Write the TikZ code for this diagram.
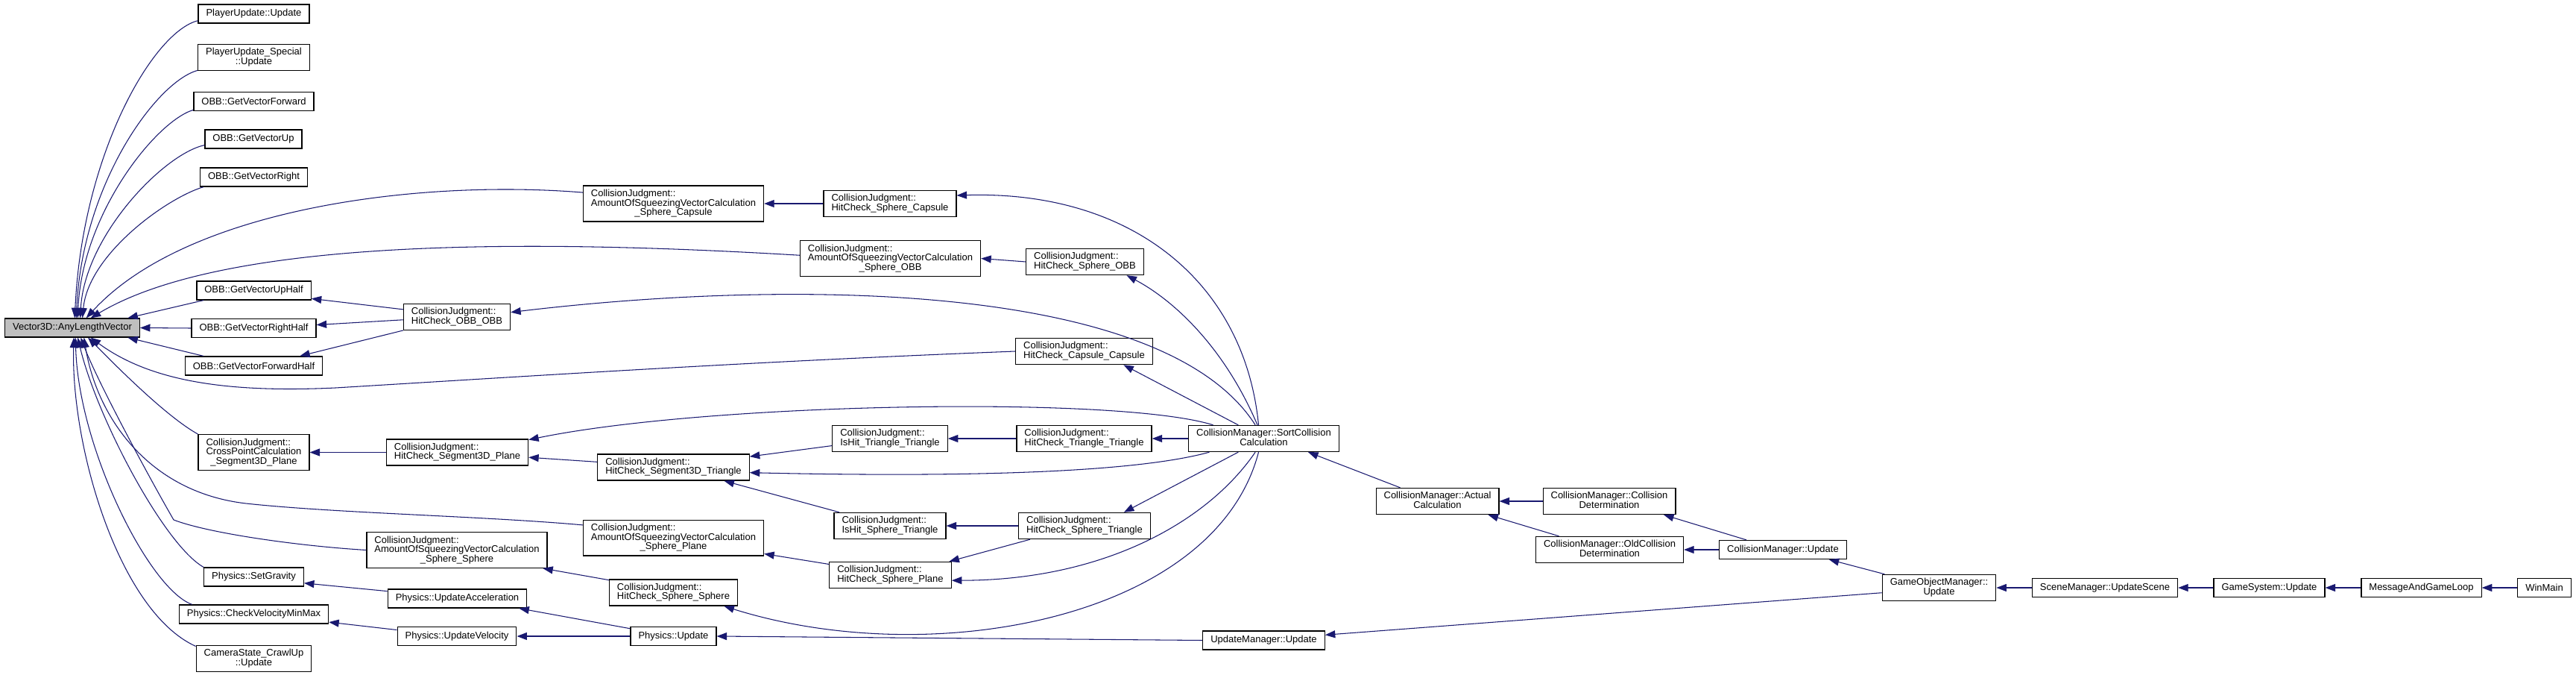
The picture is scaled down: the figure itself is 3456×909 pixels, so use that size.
\documentclass[tikz,border=0pt]{standalone}
\usepackage{fontspec}
\setmainfont{Liberation Sans}
\usepackage{xcolor}
\usetikzlibrary{arrows.meta}
\definecolor{edgeblue}{HTML}{191970}
\definecolor{focusgray}{HTML}{BFBFBF}
\renewcommand{\arraystretch}{0.708}
\newcommand{\ltwo}[2]{\begin{tabular}{@{}l@{}}#1\\#2\end{tabular}}
\newcommand{\ctwo}[2]{\begin{tabular}{@{}c@{}}#1\\#2\end{tabular}}
\newcommand{\lthree}[3]{\begin{tabular}{@{}l@{}}#1\\#2\\\multicolumn{1}{@{}c@{}}{#3}\end{tabular}}

\begin{document}
\begin{tikzpicture}[
  x=0.02cm, y=-0.02cm,
  fn/.style={draw=black, fill=white, line width=0.7pt, inner xsep=0.21cm, inner ysep=0.1cm,
    minimum height=0.5cm, font=\fontsize{7.4}{8.5}\selectfont},
  call/.style={draw=edgeblue, line width=0.6pt, -{Triangle[length=0.27cm, width=0.2cm]}}
]
\useasboundingbox (0,0) rectangle (3456,909);
\fill[white] (0,0) rectangle (3456,909);

% Callee and first column
\node[fn, fill=focusgray] (vec) at (97,439.5) {Vector3D::AnyLengthVector};
\node[fn] (puU)    at (340.5,18.5)  {PlayerUpdate::Update};
\node[fn] (puS)    at (340.5,77)    {\ctwo{PlayerUpdate\_Special}{::Update}};
\node[fn] (gvF)    at (340.5,136)   {OBB::GetVectorForward};
\node[fn] (gvU)    at (340,186.5)   {OBB::GetVectorUp};
\node[fn] (gvR)    at (340.5,237.5) {OBB::GetVectorRight};
\node[fn] (gvUH)   at (340.5,389.5) {OBB::GetVectorUpHalf};
\node[fn] (gvRH)   at (340.5,440)   {OBB::GetVectorRightHalf};
\node[fn] (gvFH)   at (340.5,490.5) {OBB::GetVectorForwardHalf};
\node[fn] (cross)  at (340.5,606.5) {\lthree{CollisionJudgment::}{CrossPointCalculation}{\_Segment3D\_Plane}};
\node[fn] (grav)   at (340.5,773.5) {Physics::SetGravity};
\node[fn] (chkvel) at (340.5,823.5) {Physics::CheckVelocityMinMax};
\node[fn] (cam)    at (340.5,883)   {\ctwo{CameraState\_CrawlUp}{::Update}};

% Second column
\node[fn] (obb)    at (613,425)     {\ltwo{CollisionJudgment::}{HitCheck\_OBB\_OBB}};
\node[fn] (segpl)  at (613.5,606.5) {\ltwo{CollisionJudgment::}{HitCheck\_Segment3D\_Plane}};
\node[fn] (amss)   at (613,737.5)   {\lthree{CollisionJudgment::}{AmountOfSqueezingVectorCalculation}{\_Sphere\_Sphere}};
\node[fn] (updacc) at (613.5,802.5) {Physics::UpdateAcceleration};
\node[fn] (updvel) at (613,853)     {Physics::UpdateVelocity};

% Third column
\node[fn] (amsc)    at (903.5,273)   {\lthree{CollisionJudgment::}{AmountOfSqueezingVectorCalculation}{\_Sphere\_Capsule}};
\node[fn] (segtri)  at (903.5,626.5) {\ltwo{CollisionJudgment::}{HitCheck\_Segment3D\_Triangle}};
\node[fn] (amsp)    at (903.5,721)   {\lthree{CollisionJudgment::}{AmountOfSqueezingVectorCalculation}{\_Sphere\_Plane}};
\node[fn] (hcss)    at (903.5,794.5) {\ltwo{CollisionJudgment::}{HitCheck\_Sphere\_Sphere}};
\node[fn] (physupd) at (903.5,853)   {Physics::Update};

% Fourth column
\node[fn] (hcsc)  at (1194,273)   {\ltwo{CollisionJudgment::}{HitCheck\_Sphere\_Capsule}};
\node[fn] (amso)  at (1194.5,346.5) {\lthree{CollisionJudgment::}{AmountOfSqueezingVectorCalculation}{\_Sphere\_OBB}};
\node[fn] (ishtt) at (1194,588)   {\ltwo{CollisionJudgment::}{IsHit\_Triangle\_Triangle}};
\node[fn] (ishst) at (1194,705)   {\ltwo{CollisionJudgment::}{IsHit\_Sphere\_Triangle}};
\node[fn] (hcsp)  at (1194.5,771) {\ltwo{CollisionJudgment::}{HitCheck\_Sphere\_Plane}};

% Fifth column
\node[fn] (hcso) at (1455.5,351) {\ltwo{CollisionJudgment::}{HitCheck\_Sphere\_OBB}};
\node[fn] (hccc) at (1454.5,471) {\ltwo{CollisionJudgment::}{HitCheck\_Capsule\_Capsule}};
\node[fn] (hctt) at (1454.5,588) {\ltwo{CollisionJudgment::}{HitCheck\_Triangle\_Triangle}};
\node[fn] (hcst) at (1455,705)   {\ltwo{CollisionJudgment::}{HitCheck\_Sphere\_Triangle}};

% Managers
\node[fn] (sort)    at (1695.5,588)   {\ctwo{CollisionManager::SortCollision}{Calculation}};
\node[fn] (updmgr)  at (1695.5,858.5) {UpdateManager::Update};
\node[fn] (actual)  at (1928.5,672)   {\ctwo{CollisionManager::Actual}{Calculation}};
\node[fn] (colldet) at (2159,672)     {\ctwo{CollisionManager::Collision}{Determination}};
\node[fn] (oldcoll) at (2159.5,737)   {\ctwo{CollisionManager::OldCollision}{Determination}};
\node[fn] (cmupd)   at (2392,737)     {CollisionManager::Update};
\node[fn] (gom)     at (2601.5,788)   {\ctwo{GameObjectManager::}{Update}};
\node[fn] (scene)   at (2824,788)     {SceneManager::UpdateScene};
\node[fn] (gamesys) at (3044.5,788)   {GameSystem::Update};
\node[fn] (msgloop) at (3248.5,788)   {MessageAndGameLoop};
\node[fn] (winmain) at (3413.5,788)   {WinMain};

% Calls into Vector3D::AnyLengthVector
\draw[call] (puU.187) .. controls +(-60,15) and +(10,-220) .. (vec.76);
\draw[call] (puS.193) .. controls +(-55,15) and +(8,-180) .. (vec.68);
\draw[call] (gvF.188) .. controls +(-50,15) and +(6,-140) .. (vec.61);
\draw[call] (gvU.187) .. controls +(-55,12) and +(6,-110) .. (vec.51);
\draw[call] (gvR.191) .. controls +(-50,15) and +(8,-85) .. (vec.44);
\draw[call] (amsc.173) .. controls (560,240) and (250,280) .. (vec.35);
\draw[call] (amso.178) .. controls (700,320) and (300,320) .. (vec.28);
\draw[call] (gvUH.191) -- (vec.10);
\draw[call] (gvRH.west) -- (vec.east);
\draw[call] (gvFH.169) -- (vec.-10);
\draw[call] (hccc.west) .. controls (1000,485) and (700,505) .. (450,520)
  .. controls (300,527) and (200,510) .. (vec.-28);
\draw[call] (cross.north west) .. controls +(-45,-25) and +(30,30) .. (vec.-32);
\draw[call] (amsp.172) .. controls (650,692) and (450,688) .. (330,675)
  .. controls (200,660) and (130,560) .. (vec.-40);
\draw[call] (amss.west) .. controls (400,732) and (280,715) .. (233,697)
  .. controls (200,640) and (130,510) .. (vec.-49);
\draw[call] (grav.north west) .. controls (220,730) and (130,560) .. (vec.-61);
\draw[call] (chkvel.171) .. controls (200,790) and (105,600) .. (vec.-72);
\draw[call] (cam.168) .. controls (160,820) and (95,600) .. (vec.-81);

% Collision judgment calls
\draw[call] (obb.172) -- (gvUH.-8);
\draw[call] (obb.183) -- (gvRH.3);
\draw[call] (obb.194) -- (gvFH.12);
\draw[call] (sort.122) .. controls (1560,375) and (1050,375) .. (obb.5);
\draw[call] (hcsc.west) -- (amsc.east);
\draw[call] (sort.111) .. controls (1670,380) and (1520,255) .. (hcsc.7);
\draw[call] (hcso.west) -- (amso.east);
\draw[call] (sort.115) .. controls (1640,460) and (1570,400) .. (hcso.-18);
\draw[call] (sort.152) -- (hccc.-19);
\draw[call] (segpl.west) -- (cross.east);
\draw[call] (sort.165) .. controls (1500,530) and (950,540) .. (segpl.10);
\draw[call] (segtri.176) -- (segpl.-4);
\draw[call] (ishtt.187) -- (segtri.8);
\draw[call] (sort.194) .. controls (1500,640) and (1200,638) .. (segtri.-4);
\draw[call] (ishst.165) -- (segtri.-15);
\draw[call] (hctt.west) -- (ishtt.east);
\draw[call] (sort.west) -- (hctt.east);
\draw[call] (hcst.west) -- (ishst.east);
\draw[call] (sort.208) -- (hcst.19);
\draw[call] (hcst.194) -- (hcsp.13);
\draw[call] (sort.238) .. controls (1620,700) and (1480,778) .. (hcsp.-5);
\draw[call] (hcsp.170) -- (amsp.-10);
\draw[call] (sort.249) .. controls (1630,830) and (1250,900) .. (hcss.-15);
\draw[call] (hcss.169) -- (amss.-12);

% Physics
\draw[call] (updacc.174) -- (grav.-7);
\draw[call] (updvel.174) -- (chkvel.-6);
\draw[call] (physupd.170) -- (updacc.-9);
\draw[call] (physupd.west) -- (updvel.east);
\draw[call] (updmgr.west) -- (physupd.east);

% Managers and main loop
\draw[call] (actual.160) -- (sort.-17);
\draw[call] (colldet.west) -- (actual.east);
\draw[call] (oldcoll.165) -- (actual.-15);
\draw[call] (cmupd.165) -- (colldet.-14);
\draw[call] (cmupd.west) -- (oldcoll.east);
\draw[call] (gom.166) -- (cmupd.-12);
\draw[call] (gom.185) -- (updmgr.5);
\draw[call] (scene.west) -- (gom.east);
\draw[call] (gamesys.west) -- (scene.east);
\draw[call] (msgloop.west) -- (gamesys.east);
\draw[call] (winmain.west) -- (msgloop.east);
\end{tikzpicture}
\end{document}
